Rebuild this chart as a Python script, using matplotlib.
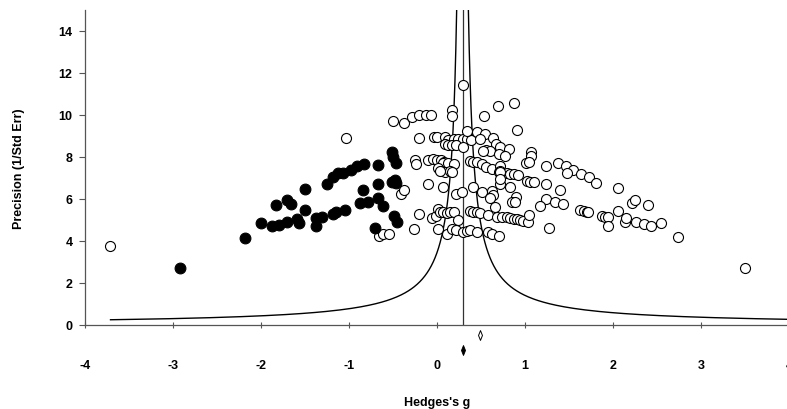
import numpy as np
import matplotlib
matplotlib.use("Agg")
import matplotlib.pyplot as plt
from matplotlib.path import Path

plt.rcParams['font.family'] = ['Liberation Sans', 'DejaVu Sans']

# observed studies (open circles)
open_x = [-3.72, 3.50, 0.29,
          -0.50, -0.38, -0.28, -0.20, -0.12, -0.07, 0.17, 0.17, 0.53, 0.69, 0.87,
          -1.03, -0.21, -0.03, 0.00, 0.09, 0.13, 0.19, 0.24, 0.29, 0.34, 0.39, 0.34, 0.46, 0.55, 0.64, 0.91, 0.49,
          0.09, 0.13, 0.17, 0.22, 0.30, 0.67, 0.72, 0.82, 0.56, 0.60, 0.52, 0.70, 0.77, 1.07, 1.07,
          -0.25, -0.24, -0.10, -0.04, 0.00, 0.04, 0.08, 0.07, 0.13, 0.19, 0.38, 0.41, 0.45, 0.51, 0.56, 0.62,
          0.72, 0.70, 0.72, 1.01, 1.04, 1.24, 1.38, 1.47, 1.55, 1.48, 1.64, 1.73, 1.81,
          0.01, 0.05, 0.09, 0.15, 0.03, 0.17, 0.79, 0.83, 0.87, 0.92, 0.72,
          1.02, 1.06, 1.10, 0.72, 0.72, 1.24,
          -0.10, 0.07, -0.41, -0.37, 0.22, 0.28, 0.41, 0.51, 0.62, 0.64, 0.60, 0.83, 0.90, 0.85, 0.89,
          1.40, 2.06, 1.24, 1.17, 1.34, 1.43, 2.22, 2.25, 2.40,
          -0.21, -0.06, -0.01, 0.01, 0.03, 0.07, 0.11, 0.15, 0.19, 0.24, 0.38, 0.41, 0.45, 0.49, 0.58, 0.66,
          0.68, 0.74, 0.79, 0.83, 0.87, 0.91, 0.94, 0.98, 1.03, 1.05, 1.62, 1.67, 1.71, 1.72, 1.87, 1.91,
          1.94, 1.94, 2.06, 2.14, 2.15, 2.26, 2.35, 2.43, 2.55, 2.74, 1.27,
          -0.26, -0.66, -0.61, -0.55, 0.01, 0.11, 0.17, 0.22, 0.29, 0.34, 0.38, 0.45, 0.58, 0.62, 0.70]
open_y = [3.77, 2.71, 11.43,
          9.73, 9.62, 9.92, 9.98, 10.00, 10.00, 10.22, 9.97, 9.93, 10.41, 10.58,
          8.89, 8.89, 8.95, 8.95, 8.93, 8.82, 8.88, 8.86, 8.86, 8.86, 8.80, 9.23, 9.19, 9.10, 8.91, 9.30, 8.86,
          8.60, 8.57, 8.57, 8.57, 8.50, 8.62, 8.50, 8.40, 8.33, 8.30, 8.30, 8.15, 8.05, 8.25, 8.06,
          7.88, 7.67, 7.85, 7.92, 7.88, 7.85, 7.78, 7.71, 7.71, 7.67, 7.82, 7.75, 7.75, 7.67, 7.52, 7.43,
          7.59, 7.27, 7.35, 7.72, 7.75, 7.59, 7.70, 7.55, 7.40, 7.22, 7.21, 7.03, 6.75,
          7.46, 7.35, 7.27, 7.33, 7.33, 7.27, 7.24, 7.19, 7.19, 7.15, 7.30,
          6.87, 6.83, 6.79, 6.71, 6.95, 6.71,
          6.71, 6.56, 6.24, 6.44, 6.24, 6.32, 6.56, 6.35, 6.40, 6.19, 6.03, 6.56, 6.08, 5.84, 5.84,
          6.44, 6.51, 6.00, 5.68, 5.87, 5.76, 5.80, 5.95, 5.71,
          5.29, 5.08, 5.17, 5.52, 5.37, 5.37, 5.33, 5.37, 5.37, 5.02, 5.44, 5.37, 5.40, 5.33, 5.24, 5.60,
          5.13, 5.13, 5.15, 5.10, 5.07, 5.05, 5.02, 4.97, 4.92, 5.26, 5.50, 5.44, 5.40, 5.37, 5.21, 5.13,
          5.13, 4.73, 5.44, 4.89, 5.08, 4.90, 4.80, 4.72, 4.86, 4.20, 4.60,
          4.55, 4.25, 4.31, 4.33, 4.57, 4.33, 4.57, 4.54, 4.44, 4.49, 4.54, 4.44, 4.41, 4.35, 4.22]

# imputed studies (filled circles)
filled_x = [-2.92, -2.18, -2.00, -1.87, -1.80, -1.70, -1.59, -1.57, -1.83, -1.70, -1.66, -1.50,
            -1.50, -1.38, -1.31, -1.38, -1.25, -1.18, -1.13, -1.15, -1.07, -0.98, -0.91, -0.83,
            -0.67, -0.47, -0.51, -0.50, -0.67, -0.84, -0.51, -0.48, -0.47, -0.87, -0.78, -0.67,
            -0.61, -1.05, -1.18, -0.49, -0.45, -0.70]
filled_y = [2.70, 4.15, 4.87, 4.70, 4.78, 4.90, 5.05, 4.84, 5.73, 5.97, 5.78, 6.49,
            5.48, 5.10, 5.16, 4.70, 6.73, 7.06, 7.25, 5.40, 7.24, 7.40, 7.56, 7.68,
            7.62, 7.73, 8.22, 7.98, 6.71, 6.44, 6.83, 6.92, 6.76, 5.79, 5.87, 6.03,
            5.65, 5.49, 5.29, 5.21, 4.92, 4.60]

# summary estimates
center = 0.29          # adjusted combined effect
observed_est = 0.49    # observed combined effect
funnel_c = 1.0
prec_min, prec_max = 0.25, 15.0

xticks = [-4, -3, -2, -1, 0, 1, 2, 3, 4]
yticks = [0, 2, 4, 6, 8, 10, 12, 14]

fig = plt.figure(figsize=(7.87, 4.10), dpi=100)
ax = fig.add_axes([85 / 787, 84 / 410, 704 / 787, 315 / 410])

prec = np.linspace(prec_min, prec_max, 600)
ax.plot(center - funnel_c / prec, prec, color='black', lw=1.0)
ax.plot(center + funnel_c / prec, prec, color='black', lw=1.0)
ax.plot([center, center], [0, 15], color='#333333', lw=0.9)

ax.scatter(open_x, open_y, s=52, facecolors='white', edgecolors='black', linewidths=0.8, zorder=3)
ax.scatter(filled_x, filled_y, s=60, facecolors='black', edgecolors='black', linewidths=0.8, zorder=3)

diamond = Path([(0, 1), (0.4, 0), (0, -1), (-0.4, 0), (0, 1)],
               [Path.MOVETO, Path.LINETO, Path.LINETO, Path.LINETO, Path.CLOSEPOLY])
ax.scatter([observed_est], [-0.48], marker=diamond, s=50, facecolors='white',
           edgecolors='black', linewidths=0.7, clip_on=False, zorder=4)
ax.scatter([center], [-1.19], marker=diamond, s=50, facecolors='black',
           edgecolors='black', linewidths=0.7, clip_on=False, zorder=4)

ax.set_xlim(-4, 4)
ax.set_ylim(0, 15)
ax.set_xticks(xticks)
ax.set_yticks(yticks)
ax.set_xticklabels([str(t) for t in xticks], fontsize=9, fontweight='bold')
ax.set_yticklabels([str(t) for t in yticks], fontsize=9, fontweight='bold')
ax.tick_params(axis='x', direction='inout', length=5, width=0.8, color='#555555', pad=22)
ax.tick_params(axis='y', direction='out', length=4, width=0.8, color='#555555', pad=5)

for side in ['top', 'right']:
    ax.spines[side].set_visible(False)
for side in ['left', 'bottom']:
    ax.spines[side].set_color('#555555')
    ax.spines[side].set_linewidth(0.9)

ax.set_xlabel("Hedges's g", fontsize=9, fontweight='bold', labelpad=18)
ax.set_ylabel("Precision (1/Std Err)", fontsize=9, fontweight='bold', labelpad=24)

fig.savefig('out.png', dpi=100)
